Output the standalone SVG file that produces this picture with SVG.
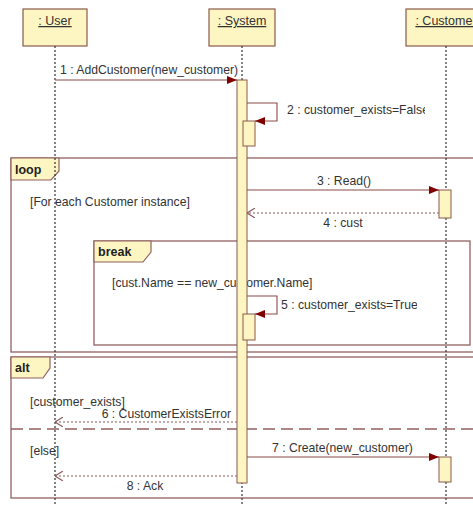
<svg xmlns="http://www.w3.org/2000/svg" width="473" height="505" viewBox="0 0 473 505">
  <style>
    .bg { fill: #ffffff; }
    .head { fill: #fdf6c3; stroke: #8a5a4a; stroke-width: 1.2; }
    .act { fill: #fdf6c3; stroke: #8a5a4a; stroke-width: 1; }
    .life { stroke: #333333; stroke-width: 1.2; stroke-dasharray: 2 2; fill: none; }
    .frame { fill: none; stroke: #926060; stroke-width: 1.3; }
    .tab { fill: #fdf6c3; stroke: #926060; stroke-width: 1.2; }
    .sep { stroke: #926060; stroke-width: 1.5; stroke-dasharray: 12 6; fill: none; }
    .msg { stroke: #8b4a4a; stroke-width: 1.1; fill: none; }
    .ret { stroke: #8b5a5a; stroke-width: 1.1; stroke-dasharray: 2 2; fill: none; }
    text { font-family: "Liberation Sans", Arial, sans-serif; font-size: 12.2px; fill: #333333; }
    .name { text-anchor: middle; text-decoration: underline; font-size: 12.5px; }
    .kw { font-weight: bold; font-size: 12.5px; fill: #222222; }
  </style>
  <defs>
    <marker id="filled" viewBox="0 0 10 8" refX="10" refY="4" markerWidth="10" markerHeight="8" markerUnits="userSpaceOnUse" orient="auto">
      <path d="M0,0 L10,4 L0,8 Z" fill="#800000"/>
    </marker>
    <marker id="open" viewBox="0 0 8 10" refX="8" refY="5" markerWidth="8" markerHeight="10" markerUnits="userSpaceOnUse" orient="auto">
      <path d="M0,0 L8,5 L0,10" fill="none" stroke="#8b5a5a" stroke-width="1.1"/>
    </marker>
    <clipPath id="clip2"><rect x="250" y="95" width="175" height="30"/></clipPath>
    <clipPath id="clip5"><rect x="250" y="290" width="167" height="30"/></clipPath>
  </defs>

  <rect class="bg" x="0" y="0" width="473" height="505"/>

  <!-- combined fragments -->
  <g id="loop">
    <rect class="frame" x="11" y="158" width="470" height="194"/>
    <path class="tab" d="M11,158 H59 V171 L51,180 H11 Z"/>
    <text class="kw" x="15" y="174">loop</text>
    <text x="30" y="206">[For each Customer instance]</text>
  </g>
  <g id="break">
    <rect class="frame" x="94" y="241" width="376" height="104"/>
    <path class="tab" d="M94,241 H151 V252 L143,262 H94 Z"/>
    <text class="kw" x="98" y="256">break</text>
    <text x="112" y="287">[cust.Name == new_customer.Name]</text>
  </g>
  <g id="alt">
    <rect class="frame" x="11" y="357" width="470" height="141"/>
    <path class="tab" d="M11,357 H50 V368 L43,378 H11 Z"/>
    <text class="kw" x="15" y="372">alt</text>
    <text x="30" y="406">[customer_exists]</text>
    <line class="sep" x1="11" y1="429" x2="473" y2="429"/>
    <text x="30" y="455">[else]</text>
  </g>

  <!-- lifelines with their heads -->
  <g id="user">
    <rect class="head" x="23" y="9" width="64" height="37"/>
    <text class="name" x="55" y="25">: User</text>
    <line class="life" x1="55" y1="46" x2="55" y2="505"/>
  </g>
  <g id="system">
    <rect class="head" x="209" y="9" width="66" height="37"/>
    <text class="name" x="242" y="25">: System</text>
    <line class="life" x1="242" y1="46" x2="242" y2="505"/>
  </g>
  <g id="customer">
    <rect class="head" x="406" y="9" width="80" height="37"/>
    <text class="name" x="446" y="25">: Customer</text>
    <line class="life" x1="446" y1="46" x2="446" y2="505"/>
  </g>

  <!-- execution specifications -->
  <g id="activations">
    <rect class="act" x="237" y="80" width="10" height="403"/>
    <rect class="act" x="243" y="121" width="12" height="25"/>
    <rect class="act" x="243" y="314" width="12" height="26"/>
    <rect class="act" x="439" y="190" width="12" height="28"/>
    <rect class="act" x="439" y="457" width="12" height="25"/>
  </g>

  <!-- messages -->
  <g id="connectors">
    <line class="msg" x1="55" y1="80" x2="237" y2="80" marker-end="url(#filled)"/>
    <text x="60" y="74">1 : AddCustomer(new_customer)</text>

    <path class="msg" d="M247,103 H277 V121 H255" marker-end="url(#filled)"/>
    <text x="287" y="114" clip-path="url(#clip2)">2 : customer_exists=False</text>

    <line class="msg" x1="247" y1="190" x2="439" y2="190" marker-end="url(#filled)"/>
    <text x="344" y="185" text-anchor="middle">3 : Read()</text>

    <line class="ret" x1="439" y1="213" x2="247" y2="213" marker-end="url(#open)"/>
    <text x="343" y="227" text-anchor="middle">4 : cust</text>

    <path class="msg" d="M247,296 H277 V314 H255" marker-end="url(#filled)"/>
    <text x="281" y="309" clip-path="url(#clip5)">5 : customer_exists=True</text>

    <line class="ret" x1="237" y1="422" x2="55" y2="422" marker-end="url(#open)"/>
    <text x="231" y="418" text-anchor="end">6 : CustomerExistsError</text>

    <line class="msg" x1="247" y1="457" x2="439" y2="457" marker-end="url(#filled)"/>
    <text x="272" y="452">7 : Create(new_customer)</text>

    <line class="ret" x1="237" y1="476" x2="55" y2="476" marker-end="url(#open)"/>
    <text x="145" y="490" text-anchor="middle">8 : Ack</text>
  </g>
</svg>
